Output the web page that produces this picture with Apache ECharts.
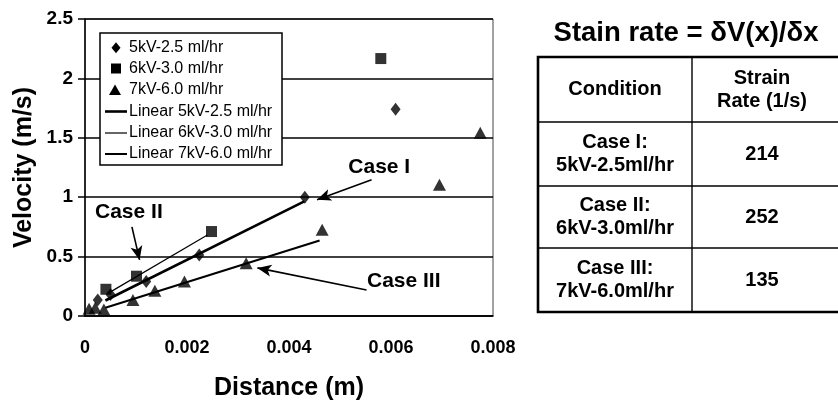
<!DOCTYPE html>
<html>
<head>
<meta charset="utf-8">
<script src="https://cdn.jsdelivr.net/npm/echarts@6/dist/echarts.min.js"></script>
<style>
  html, body { margin: 0; padding: 0; background: #fff; }
  #chart { width: 838px; height: 403px; }
</style>
</head>
<body>
<div id="chart"></div>
<script>
// Measured jet velocity against distance from the needle tip, three spinning conditions
const seriesNames = ['5kV-2.5 ml/hr', '6kV-3.0 ml/hr', '7kV-6.0 ml/hr'];
const fitNames = ['Linear 5kV-2.5 ml/hr', 'Linear 6kV-3.0 ml/hr', 'Linear 7kV-6.0 ml/hr'];

const dist5kV = [0.00025, 0.0005, 0.0012, 0.00224, 0.00431, 0.00609];
const vel5kV  = [0.135, 0.18, 0.29, 0.514, 1.0, 1.74];

const dist6kV = [0.00041, 0.00101, 0.00248, 0.0058];
const vel6kV  = [0.225, 0.335, 0.711, 2.167];

const dist7kV = [0.00008, 0.0002, 0.00037, 0.00094, 0.00137, 0.00195, 0.00316, 0.00465, 0.00695, 0.00775];
const vel7kV  = [0.06, 0.07, 0.055, 0.135, 0.213, 0.29, 0.444, 0.725, 1.105, 1.543];

// Linear fits: slope is the strain rate (1/s) listed in the table
const strainRates   = [214, 252, 135];
const fitIntercepts = [0.045, 0.077, 0.015];
const fitFrom       = [0.0004, 0.00045, 0.0004];
const fitTo         = [0.0043, 0.0024, 0.0046];

// Axis ticks
const xTickValues = [0, 0.002, 0.004, 0.006, 0.008];
const yTickValues = [0, 0.5, 1, 1.5, 2, 2.5];

// Table contents
const tableTitle = 'Stain rate = \u03b4V(x)/\u03b4x';
const tableHeader = ['Condition', 'Strain\nRate (1/s)'];
const tableCases = ['Case I:', 'Case II:', 'Case III:'];
const tableConditions = ['5kV-2.5ml/hr', '6kV-3.0ml/hr', '7kV-6.0ml/hr'];

// Callout arrows [fromX, fromY, toX, toY] in data units and their labels
const calloutLabels = ['Case I', 'Case II', 'Case III'];
const calloutArrows = [
  [0.00562, 1.147, 0.00455, 0.978],
  [0.00092, 0.75, 0.00107, 0.472],
  [0.00552, 0.219, 0.00338, 0.405]
];
const calloutTextAt = [
  [0.00577, 1.25],
  [0.00086, 0.87],
  [0.00625, 0.295]
];

const FONT = 'Arial, "Liberation Sans", Helvetica, sans-serif';

function pairs(xs, ys) { return xs.map((x, i) => [x, ys[i]]); }
function fitLine(i) {
  return [fitFrom[i], fitTo[i]].map(x => [x, strainRates[i] * x + fitIntercepts[i]]);
}

const markerShapes = ['diamond', 'rect', 'triangle'];
const markerSizes = [[10, 13], [11, 11], [13, 12]];
const fitWidths = [2.6, 1.2, 2.0];
const scatterData = [pairs(dist5kV, vel5kV), pairs(dist6kV, vel6kV), pairs(dist7kV, vel7kV)];

const series = [];
seriesNames.forEach((name, i) => {
  series.push({
    name: name,
    type: 'scatter',
    data: scatterData[i],
    symbol: markerShapes[i],
    symbolSize: markerSizes[i],
    itemStyle: { color: '#000' },
    z: 4
  });
});
fitNames.forEach((name, i) => {
  series.push({
    name: name,
    type: 'line',
    data: fitLine(i),
    symbol: 'none',
    lineStyle: { color: '#000', width: fitWidths[i] },
    itemStyle: { color: '#000' },
    z: 3
  });
});
// Callout arrows drawn in data coordinates
series.push({
  name: 'callouts',
  type: 'scatter',
  data: [],
  silent: true,
  markLine: {
    silent: true,
    symbol: ['none', 'arrow'],
    symbolSize: [9, 14],
    label: { show: false },
    lineStyle: { color: '#000', width: 1.6, type: 'solid' },
    emphasis: { disabled: true },
    data: calloutArrows.map(a => [{ coord: [a[0], a[1]] }, { coord: [a[2], a[3]] }])
  }
});

const chart = echarts.init(document.getElementById('chart'), null, { renderer: 'canvas' });

const option = {
  animation: false,
  backgroundColor: '#fff',
  textStyle: { fontFamily: FONT },
  grid: {
    left: 85, right: 345, top: 19, bottom: 87,
    show: true, borderColor: '#444', borderWidth: 1,
    outerBoundsMode: 'none'
  },
  xAxis: {
    type: 'value',
    min: xTickValues[0], max: xTickValues[xTickValues.length - 1],
    interval: xTickValues[1] - xTickValues[0],
    name: 'Distance (m)',
    nameLocation: 'middle',
    nameGap: 60,
    nameTextStyle: { fontFamily: FONT, fontSize: 25, fontWeight: 'bold', color: '#000' },
    axisLine: { show: true, lineStyle: { color: '#000', width: 1.5 } },
    axisTick: { show: false },
    splitLine: { show: false },
    axisLabel: {
      margin: 23, fontFamily: FONT, fontSize: 18, fontWeight: 'bold', color: '#000',
      formatter: v => String(+v.toFixed(3))
    }
  },
  yAxis: {
    type: 'value',
    min: yTickValues[0], max: yTickValues[yTickValues.length - 1],
    interval: yTickValues[1] - yTickValues[0],
    name: 'Velocity (m/s)',
    nameLocation: 'middle',
    nameGap: 48,
    nameTextStyle: { fontFamily: FONT, fontSize: 25, fontWeight: 'bold', color: '#000' },
    axisLine: { show: true, lineStyle: { color: '#000', width: 1.5 } },
    axisTick: { show: true, inside: false, length: 7, lineStyle: { color: '#000', width: 1.5 } },
    splitLine: { show: true, lineStyle: { color: '#000', width: 1.5 } },
    axisLabel: {
      margin: 12, fontFamily: FONT, fontSize: 19, fontWeight: 'bold', color: '#000',
      formatter: v => String(v)
    }
  },
  series: series
};
chart.setOption(option);

// Callout labels placed through the chart's own coordinate conversion
const calloutGraphics = calloutLabels.map((txt, i) => {
  const p = chart.convertToPixel({ gridIndex: 0 }, calloutTextAt[i]);
  return {
    type: 'text', x: p[0], y: p[1], z: 10,
    style: {
      text: txt, fill: '#000', font: 'bold 21px ' + FONT,
      align: 'center', verticalAlign: 'middle'
    }
  };
});

// Legend box: marker keys for the data series, line keys for the fits
const legLeft = 100, legTop = 33, legRight = 282, legBottom = 165;
const legRowY = [47.7, 68.5, 90, 111.5, 133, 154];
const legIconX = 116, legLineX1 = 105, legLineX2 = 127, legTextX = 129;
const legendGraphics = [{
  type: 'rect', z: 20,
  shape: { x: legLeft, y: legTop, width: legRight - legLeft, height: legBottom - legTop },
  style: { fill: '#fff', stroke: '#000', lineWidth: 1.5 }
}];
const legendKeyShapes = [
  y => ({ type: 'polygon', shape: { points: [[legIconX, y - 5.5], [legIconX + 4.5, y], [legIconX, y + 5.5], [legIconX - 4.5, y]] } }),
  y => ({ type: 'rect', shape: { x: legIconX - 5, y: y - 5, width: 10, height: 10 } }),
  y => ({ type: 'polygon', shape: { points: [[legIconX - 1, y - 5.5], [legIconX + 5, y + 5], [legIconX - 7, y + 5]] } })
];
seriesNames.forEach((name, i) => {
  const y = legRowY[i];
  const key = legendKeyShapes[i](y);
  key.z = 21;
  key.style = { fill: '#000', stroke: 'none' };
  legendGraphics.push(key);
});
fitNames.forEach((name, i) => {
  const y = legRowY[i + 3];
  legendGraphics.push({
    type: 'line', z: 21,
    shape: { x1: legLineX1, y1: y, x2: legLineX2, y2: y },
    style: { stroke: '#000', lineWidth: fitWidths[i] }
  });
});
seriesNames.concat(fitNames).forEach((name, i) => {
  legendGraphics.push({
    type: 'text', z: 21, x: legTextX, y: legRowY[i],
    style: { text: name, fill: '#000', font: '16px ' + FONT, align: 'left', verticalAlign: 'middle' }
  });
});

// Strain-rate table beside the plot
const tblLeft = 538, tblTop = 57, tblRight = 850, colSplit = 692;
const rowLines = [122, 186, 248];
const tblBottom = 312;
const rowTops = [tblTop].concat(rowLines);
const rowBottoms = rowLines.concat([tblBottom]);
const col1 = 615, col2 = 762;
const cellFont = 'bold 20px ' + FONT;

const tableGraphics = [
  {
    type: 'text', x: 686, y: 33,
    style: { text: tableTitle, fill: '#000', font: 'bold 27.5px ' + FONT, align: 'center', verticalAlign: 'middle' }
  },
  {
    type: 'rect', shape: { x: tblLeft, y: tblTop, width: tblRight - tblLeft, height: tblBottom - tblTop },
    style: { fill: 'none', stroke: '#000', lineWidth: 2.6 }
  },
  {
    type: 'line', shape: { x1: colSplit, y1: tblTop, x2: colSplit, y2: tblBottom },
    style: { stroke: '#000', lineWidth: 1.4 }
  }
];
rowLines.forEach(y => {
  tableGraphics.push({
    type: 'line', shape: { x1: tblLeft, y1: y, x2: tblRight, y2: y },
    style: { stroke: '#000', lineWidth: 1.6 }
  });
});
const cellTexts = [[tableHeader[0], tableHeader[1]]].concat(
  tableCases.map((c, i) => [c + '\n' + tableConditions[i], String(strainRates[i])])
);
cellTexts.forEach((row, r) => {
  const cy = (rowTops[r] + rowBottoms[r]) / 2;
  [col1, col2].forEach((cx, c) => {
    tableGraphics.push({
      type: 'text', x: cx, y: cy,
      style: { text: row[c], fill: '#000', font: cellFont, lineHeight: 23, align: 'center', verticalAlign: 'middle' }
    });
  });
});

chart.setOption({ graphic: calloutGraphics.concat(legendGraphics, tableGraphics) });
</script>
</body>
</html>
